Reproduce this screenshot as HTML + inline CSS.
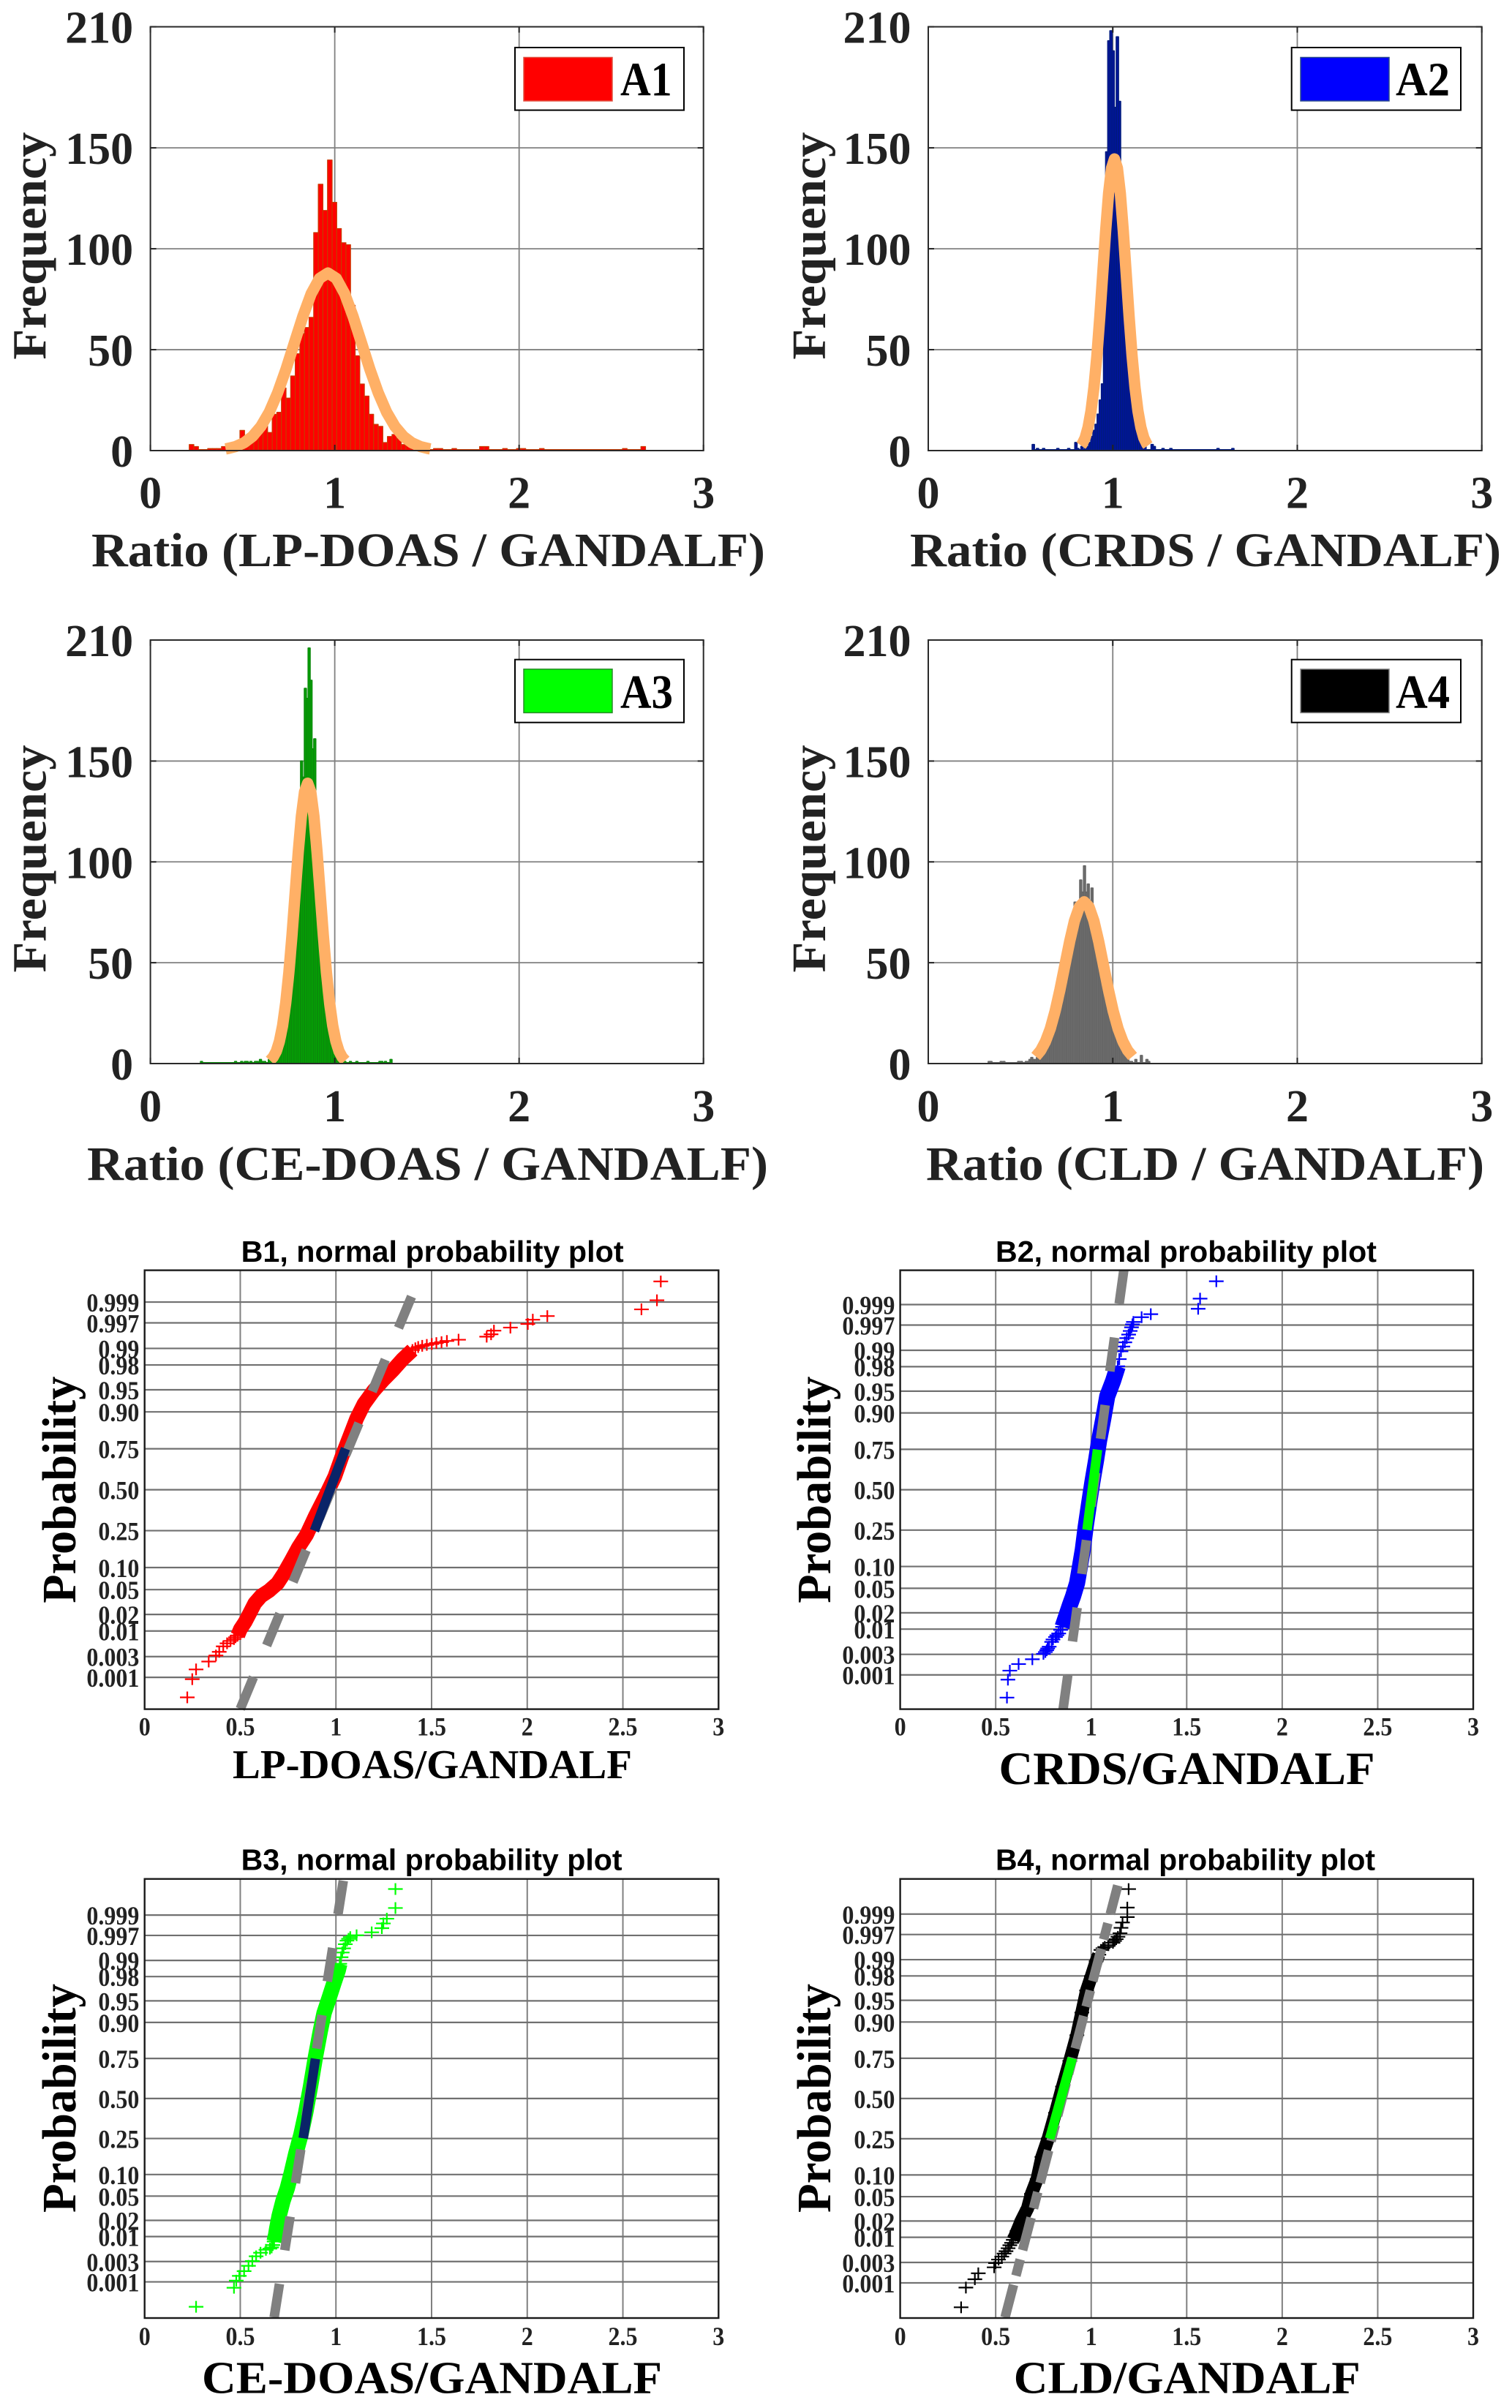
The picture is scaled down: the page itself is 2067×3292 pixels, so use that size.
<!DOCTYPE html>
<html lang="en">
<head>
<meta charset="utf-8">
<title>Ratio histograms and normal probability plots</title>
<style>
html,body{margin:0;padding:0;background:#fff;}
svg{display:block;}
.serif{font-family:"Liberation Serif",serif;font-weight:bold;}
.sans{font-family:"Liberation Sans",sans-serif;font-weight:bold;}
.ax{fill:#222;}
.bx{fill:#000;}
</style>
</head>
<body>
<svg id="figure" xmlns="http://www.w3.org/2000/svg" width="2067" height="3292" viewBox="0 0 2067 3292">
<rect width="2067" height="3292" fill="#fff"/>

<g id="a1"></g>
<g id="a2"></g>
<g id="a3"></g>
<g id="a4"></g>
<g id="b1"></g>
<g id="b2"></g>
<g id="b3"></g>
<g id="b4"></g>

<!-- histogram axis titles -->
<g class="serif ax" font-size="66">
<text transform="translate(62.5,491.6) rotate(-90)" textLength="311" lengthAdjust="spacingAndGlyphs">Frequency</text>
<text transform="translate(1128,491.6) rotate(-90)" textLength="311" lengthAdjust="spacingAndGlyphs">Frequency</text>
<text transform="translate(62.5,1329.5) rotate(-90)" textLength="311" lengthAdjust="spacingAndGlyphs">Frequency</text>
<text transform="translate(1128,1329.5) rotate(-90)" textLength="311" lengthAdjust="spacingAndGlyphs">Frequency</text>
<text x="125" y="774" textLength="921" lengthAdjust="spacingAndGlyphs">Ratio (LP-DOAS / GANDALF)</text>
<text x="1244" y="774" textLength="808" lengthAdjust="spacingAndGlyphs">Ratio (CRDS / GANDALF)</text>
<text x="119" y="1613" textLength="931" lengthAdjust="spacingAndGlyphs">Ratio (CE-DOAS / GANDALF)</text>
<text x="1266" y="1613" textLength="763" lengthAdjust="spacingAndGlyphs">Ratio (CLD / GANDALF)</text>
</g>

<!-- legends -->
<g>
<rect x="704" y="65" width="231" height="85.6" fill="#fff" stroke="#000" stroke-width="2"/>
<rect x="716" y="78.5" width="121" height="59.5" fill="#f00" stroke="#e05040" stroke-width="1.5"/>
<text class="serif" fill="#000" font-size="66" x="848" y="130.7" textLength="70.6" lengthAdjust="spacingAndGlyphs">A1</text>
</g>
<g>
<rect x="1765.7" y="65" width="231.3" height="85.6" fill="#fff" stroke="#000" stroke-width="2"/>
<rect x="1778" y="78.5" width="121" height="59.5" fill="#00f" stroke="#2a4a8a" stroke-width="1.5"/>
<text class="serif" fill="#000" font-size="66" x="1908" y="130.7" textLength="74" lengthAdjust="spacingAndGlyphs">A2</text>
</g>
<g>
<rect x="704" y="901.7" width="231" height="86" fill="#fff" stroke="#000" stroke-width="2"/>
<rect x="716" y="914.8" width="121" height="59.6" fill="#0f0" stroke="#2a8a2a" stroke-width="1.5"/>
<text class="serif" fill="#000" font-size="66" x="848" y="968" textLength="72" lengthAdjust="spacingAndGlyphs">A3</text>
</g>
<g>
<rect x="1765.7" y="901.7" width="231.3" height="86" fill="#fff" stroke="#000" stroke-width="2"/>
<rect x="1778" y="914.8" width="121" height="59.6" fill="#000" stroke="#888" stroke-width="1.5"/>
<text class="serif" fill="#000" font-size="66" x="1908" y="968" textLength="74" lengthAdjust="spacingAndGlyphs">A4</text>
</g>

<!-- probability plot titles and axis titles -->
<g class="sans" fill="#000" font-size="41">
<text x="329.6" y="1725" textLength="523" lengthAdjust="spacingAndGlyphs">B1, normal probability plot</text>
<text x="1361" y="1725" textLength="521" lengthAdjust="spacingAndGlyphs">B2, normal probability plot</text>
<text x="329.6" y="2556.6" textLength="521" lengthAdjust="spacingAndGlyphs">B3, normal probability plot</text>
<text x="1361" y="2556.6" textLength="519" lengthAdjust="spacingAndGlyphs">B4, normal probability plot</text>
</g>
<g class="serif bx">
<text font-size="56" x="318" y="2431" textLength="546" lengthAdjust="spacingAndGlyphs">LP-DOAS/GANDALF</text>
<text font-size="63" x="1365.5" y="2439" textLength="514" lengthAdjust="spacingAndGlyphs">CRDS/GANDALF</text>
<text font-size="62" x="276" y="3271.7" textLength="629" lengthAdjust="spacingAndGlyphs">CE-DOAS/GANDALF</text>
<text font-size="62" x="1385.8" y="3271.7" textLength="474" lengthAdjust="spacingAndGlyphs">CLD/GANDALF</text>
<text font-size="66" transform="translate(103,2191.7) rotate(-90)" textLength="310" lengthAdjust="spacingAndGlyphs">Probability</text>
<text font-size="66" transform="translate(1135,2191.7) rotate(-90)" textLength="310" lengthAdjust="spacingAndGlyphs">Probability</text>
<text font-size="66" transform="translate(103,3025) rotate(-90)" textLength="313" lengthAdjust="spacingAndGlyphs">Probability</text>
<text font-size="66" transform="translate(1135,3025) rotate(-90)" textLength="313" lengthAdjust="spacingAndGlyphs">Probability</text>
</g>
</svg>

<script>
/* ---------- tick labels ---------- */
const histXTicks = [0, 1, 2, 3];
const histYTicks = [0, 50, 100, 150, 210];
const probXTicks = ['0', '0.5', '1', '1.5', '2', '2.5', '3'];
const probYTicks = ['0.001', '0.003', '0.01', '0.02', '0.05', '0.10', '0.25', '0.50', '0.75', '0.90', '0.95', '0.98', '0.99', '0.997', '0.999'];

/* ---------- histogram A1 ---------- */
const a1BinWidth = 0.025;
const a1Bins = [.2107,.2357,.3107,.3357,.3607,.3857,.4107,.4357,.4607,.4857,.5107,.5357,.5607,.5857,.6107,.6357,.6607,.6857,.7107,.7357,.7607,.7857,.8107,.8357,.8607,.8857,.9107,.9357,.9607,.9857,1.0107,1.0357,1.0607,1.0857,1.1107,1.1357,1.1607,1.1857,1.2107,1.2357,1.2607,1.2857,1.3107,1.3357,1.3607,1.3857,1.4107,1.4357,1.4607,1.4857,1.5357,1.5607,1.6357,1.7857,1.8107,1.9107,1.9857,2.0107,2.1107,2.5607,2.6607];
const a1Counts = [3,2,1,1,1,2,2,3,4,10,5,6,8,12,14,9,18,19,31,26,37,48,58,61,66,108,132,119,144,123,110,103,102,72,47,33,27,18,13,12,4,7,8,6,3,3,2,1,1,1,1,1,1,2,2,1,1,1,1,1,2];
const a1FitRatio = [.408,.417,.4625,.508,.5535,.599,.6445,.69,.7355,.781,.8265,.872,.9175,.963,1.0085,1.054,1.0995,1.145,1.1905,1.236,1.2815,1.327,1.3725,1.418,1.4635,1.509,1.518];
const a1FitCount = [.83,.98,2,3.86,7,11.9,19,28.6,40.3,53.4,66.4,77.7,85.3,88,85.3,77.7,66.4,53.4,40.3,28.6,19,11.9,7,3.86,2,.98,.83];

/* ---------- histogram A2 ---------- */
const a2BinWidth = 0.0115;
const a2Bins = [.5635,.5865,.6195,.6965,.7555,.7945,.8045,.8275,.8467,.8582,.8697,.8812,.8927,.9042,.9157,.9272,.9387,.9502,.9617,.9732,.9847,.9962,1.0077,1.0192,1.0307,1.0422,1.0537,1.0652,1.0767,1.0882,1.0997,1.1112,1.1227,1.1342,1.1457,1.1572,1.1687,1.2077,1.2192,1.2667,1.3092,1.5647,1.6452];
const a2Counts = [3,1,1,1,1,4,1,2,1,2,4,7,10,13,18,25,33,90,148,203,208,198,170,205,173,120,90,70,50,34,24,17,12,8,5,3,2,3,2,1,1,1,1];
const a2FitRatio = [.828,.8343,.8502,.8661,.882,.8979,.9138,.9297,.9456,.9615,.9774,.9933,1.0092,1.0251,1.041,1.0569,1.0728,1.0887,1.1046,1.1205,1.1364,1.1523,1.1682,1.1841,1.1905];
const a2FitCount = [2.5,3.3,6.3,11.5,19.6,31.3,46.9,66.2,87.6,109,127.5,140,144.5,140,127.5,109,87.6,66.2,46.9,31.3,19.6,11.5,6.3,3.3,2.5];

/* ---------- histogram A3 ---------- */
const a3BinWidth = 0.0102;
const a3Bins = [.272,.457,.49,.51,.52,.54,.565,.575,.592,.602,.615,.64,.6519,.6621,.6723,.6825,.6927,.7029,.7131,.7233,.7335,.7437,.7539,.7641,.7743,.7845,.7947,.8049,.8151,.8253,.8355,.8457,.8559,.8661,.8763,.8865,.8967,.9069,.9171,.9273,.9375,.9477,.9579,.9681,.9783,.9885,.9987,1.0089,1.0191,1.0293,1.0395,1.0497,1.08,1.115,1.175,1.24,1.25,1.27,1.3];
const a3Counts = [1,1,1,1,1,1,1,1,2,1,1,2,2,3,4,6,8,11,15,20,26,33,42,52,64,78,96,118,150,142,186,181,206,190,156,161,122,100,82,66,53,42,33,25,19,14,10,7,5,3,2,1,1,1,1,1,1,1,2];
const a3FitRatio = [.649,.666,.683,.7,.717,.734,.751,.768,.785,.802,.819,.836,.853,.87,.887,.904,.921,.938,.955,.972,.989,1.006,1.023,1.04,1.057];
const a3FitCount = [1.5,3.2,6.1,11.1,18.8,30.1,45.1,63.6,84.3,104.9,122.7,134.7,139,134.7,122.7,104.9,84.3,63.6,45.1,30.1,18.8,11.1,6.1,3.2,1.5];

/* ---------- histogram A4 ---------- */
const a4BinWidth = 0.0102;
const a4Bins = [.325,.335,.39,.405,.485,.5,.526,.536,.546,.556,.5662,.5764,.5866,.5968,.607,.6172,.6274,.6376,.6478,.658,.6682,.6784,.6886,.6988,.709,.7192,.7294,.7396,.7498,.76,.7702,.7804,.7906,.8008,.811,.8212,.8314,.8416,.8518,.862,.8722,.8824,.8926,.9028,.913,.9232,.9334,.9436,.9538,.964,.9742,.9844,.9946,1.0048,1.015,1.0252,1.0354,1.0456,1.0558,1.066,1.0762,1.0864,1.0966,1.12,1.15,1.18,1.19];
const a4Counts = [1,1,1,1,1,1,1,1,2,3,2,2,3,3,4,5,6,7,9,11,13,16,19,23,27,32,37,42,48,55,60,68,80,72,78,91,85,98,85,89,78,87,72,62,62,55,48,59,42,36,30,25,20,16,13,10,8,6,5,3,2,1,1,2,4,2,1];
const a4FitRatio = [.5825,.6088,.635,.6613,.6875,.7138,.74,.7663,.7925,.8188,.845,.8712,.8975,.9238,.95,.9762,1.0025,1.0288,1.055,1.0812,1.1075];
const a4FitCount = [3.5,6.4,10.9,17.3,26,36.7,48.6,60.5,70.8,77.7,80.2,77.7,70.8,60.5,48.6,36.7,26,17.3,10.9,6.4,3.5];

/* ---------- probability plot B1 ---------- */
const b1Ratio = [.223,.249,.269,.335,.373,.39,.411,.431,.449,.467,.475,.487,.5,.525,.55,.576,.609,.652,.695,.728,.766,.804,.847,.893,.943,.994,1.032,1.07,1.108,1.146,1.197,1.248,1.298,1.349,1.4,1.415,1.43,1.451,1.475,1.501,1.525,1.552,1.58,1.641,1.788,1.811,1.826,1.912,2.003,2.029,2.105,2.597,2.678,2.698];
const b1Score = [-3.42,-3.12,-2.96,-2.83,-2.73,-2.67,-2.58,-2.53,-2.49,-2.46,-2.43,-2.4,-2.3,-2.18,-2.03,-1.87,-1.75,-1.66,-1.54,-1.38,-1.17,-.95,-.74,-.43,-.12,.215,.553,.86,1.17,1.41,1.63,1.81,1.97,2.15,2.3,2.33,2.35,2.37,2.385,2.4,2.415,2.43,2.45,2.47,2.52,2.56,2.62,2.67,2.73,2.8,2.86,2.97,3.12,3.43];
const b1LineRatio = [.5, 1.395];
const b1LineScore = [-3.61, 3.18];
const b1CoreRatio = [.8877, 1.05];
const b1CoreScore = [-.676, .676];

/* ---------- probability plot B2 ---------- */
const b2Ratio = [.559,.564,.574,.62,.692,.75,.76,.767,.772,.78,.793,.8,.813,.82,.83,.84,.85,.868,.888,.905,.926,.938,.956,.971,.988,1.006,1.026,1.041,1.063,1.084,1.114,1.139,1.147,1.156,1.166,1.176,1.186,1.196,1.204,1.211,1.216,1.221,1.264,1.312,1.56,1.57,1.655];
const b2Score = [-3.47,-3.17,-3.02,-2.91,-2.83,-2.74,-2.71,-2.68,-2.65,-2.62,-2.54,-2.5,-2.46,-2.43,-2.4,-2.34,-2.29,-2.12,-1.93,-1.78,-1.56,-1.34,-1,-.62,-.25,.125,.5,.81,1.18,1.56,1.81,2.06,2.18,2.31,2.39,2.46,2.53,2.59,2.65,2.71,2.76,2.8,2.88,2.93,3.02,3.19,3.48];
const b2LineRatio = [.853, 1.171];
const b2LineScore = [-3.66, 3.67];
const b2CoreRatio = [.978, 1.033];
const b2CoreScore = [-.67, .67];

/* ---------- probability plot B3 ---------- */
const b3Ratio = [.269,.467,.479,.495,.52,.543,.563,.583,.606,.634,.655,.664,.67,.677,.685,.69,.703,.723,.746,.766,.791,.817,.842,.867,.893,.918,.938,.964,.989,1.012,1.02,1.027,1.033,1.04,1.049,1.058,1.066,1.075,1.108,1.187,1.24,1.248,1.266,1.311,1.311];
const b3Score = [-3.51,-3.19,-3.07,-2.99,-2.91,-2.82,-2.74,-2.66,-2.6,-2.55,-2.53,-2.51,-2.47,-2.41,-2.3,-2.2,-1.98,-1.73,-1.51,-1.26,-.92,-.61,-.24,.2,.7,1.13,1.44,1.69,1.94,2.16,2.27,2.38,2.46,2.53,2.6,2.66,2.69,2.72,2.75,2.8,2.87,2.95,3.03,3.21,3.53];
const b3LineRatio = [.677, 1.04];
const b3LineScore = [-3.69, 3.7];
const b3CoreRatio = [.829, .893];
const b3CoreScore = [-.67, .67];

/* ---------- probability plot B4 ---------- */
const b4Ratio = [.319,.344,.391,.409,.492,.499,.515,.532,.544,.554,.565,.574,.583,.592,.602,.612,.637,.667,.687,.717,.742,.775,.813,.85,.888,.925,.951,.976,1.001,1.026,1.04,1.051,1.062,1.071,1.09,1.114,1.122,1.131,1.14,1.151,1.156,1.164,1.189,1.189,1.196];
const b4Score = [-3.5,-3.17,-3.03,-2.93,-2.83,-2.76,-2.7,-2.65,-2.6,-2.56,-2.51,-2.46,-2.42,-2.37,-2.3,-2.22,-2.03,-1.84,-1.6,-1.35,-.98,-.67,-.24,.2,.63,1.06,1.44,1.81,2.05,2.3,2.41,2.49,2.52,2.54,2.57,2.61,2.64,2.67,2.71,2.77,2.86,2.95,3.04,3.2,3.51];
const b4LineRatio = [.549, 1.139];
const b4LineScore = [-3.67, 3.57];
const b4CoreRatio = [.7825, .9];
const b4CoreScore = [-.675, .675];

/* ---------- rendering ---------- */
const NS = 'http://www.w3.org/2000/svg';
function mk(tag, attrs, parent) {
  const el = document.createElementNS(NS, tag);
  for (const k in attrs) el.setAttribute(k, attrs[k]);
  parent.appendChild(el);
  return el;
}
function pointsOf(xs, ys, fx, fy) {
  return xs.map((v, i) => fx(v).toFixed(2) + ',' + fy(ys[i]).toFixed(2)).join(' ');
}
/* width of a numeric label set in Times-metric bold at 32px, so taller glyphs keep the original width */
function labelWidth(t) {
  let em = 0;
  for (const c of t) em += c === '.' ? 0.25 : 0.5;
  return em * 32;
}
/* inverse normal CDF (probability axis scale) */
function probit(p) {
  const q = p < 0.5 ? p : 1 - p;
  const t = Math.sqrt(-2 * Math.log(q));
  const z = t - (2.515517 + 0.802853 * t + 0.010328 * t * t) / (1 + 1.432788 * t + 0.189269 * t * t + 0.001308 * t * t * t);
  return p < 0.5 ? -z : z;
}

const histPanels = [
  {id:'a1', left:205.6, right:961.7, top:36.6, bottom:616, bins:a1Bins, counts:a1Counts, width:a1BinWidth, fitX:a1FitRatio, fitY:a1FitCount, fill:'#ff0000', edge:'#c83a00', edgeWidth:1.2, labelY:694.6},
  {id:'a2', left:1269, right:2025.7, top:36.6, bottom:616, bins:a2Bins, counts:a2Counts, width:a2BinWidth, fitX:a2FitRatio, fitY:a2FitCount, fill:'#0012a6', edge:'#001a80', edgeWidth:1.8, labelY:694.6},
  {id:'a3', left:205.6, right:961.7, top:875, bottom:1454, bins:a3Bins, counts:a3Counts, width:a3BinWidth, fitX:a3FitRatio, fitY:a3FitCount, fill:'#00b400', edge:'#0a8a0a', edgeWidth:1.8, labelY:1533},
  {id:'a4', left:1269, right:2025.7, top:875, bottom:1454, bins:a4Bins, counts:a4Counts, width:a4BinWidth, fitX:a4FitRatio, fitY:a4FitCount, fill:'#707070', edge:'#666666', edgeWidth:1.8, labelY:1533}
];

histPanels.forEach(function (p) {
  const g = document.getElementById(p.id);
  const X = v => p.left + (p.right - p.left) * v / 3;
  const Y = v => p.bottom - (p.bottom - p.top) * v / 210;

  histXTicks.forEach(function (t) {
    if (t > 0 && t < 3) {
      const gl = mk('line', {x1:X(t), x2:X(t), y1:p.top, y2:p.bottom, stroke:'#808080', 'stroke-width':1.8}, g);
      
      
    }
    const tx = mk('text', {x:X(t), y:p.labelY, 'text-anchor':'middle', 'font-size':62, class:'serif ax'}, g);
    tx.textContent = String(t);
    
    
  });
  histYTicks.forEach(function (t) {
    if (t > 0 && t < 210) {
      const gl = mk('line', {x1:p.left, x2:p.right, y1:Y(t), y2:Y(t), stroke:'#808080', 'stroke-width':1.8}, g);
      
      
    }
    const tx = mk('text', {x:p.left - 23.5, y:Y(t) + 22, 'text-anchor':'end', 'font-size':62, class:'serif ax'}, g);
    tx.textContent = String(t);
    
    
  });

  const last = p.bins.length - 1;
  const base = mk('line', {x1:X(p.bins[0]), x2:X(p.bins[last] + p.width), y1:p.bottom - 1, y2:p.bottom - 1, stroke:p.edge, 'stroke-width':2}, g);
  
  

  p.bins.forEach(function (b, i) {
    const bar = mk('rect', {x:X(b), y:Y(p.counts[i]), width:X(b + p.width) - X(b), height:Y(0) - Y(p.counts[i]), fill:p.fill, stroke:p.edge, 'stroke-width':p.edgeWidth, 'stroke-linejoin':'round'}, g);
    
    
  });

  const fit = mk('polyline', {points:pointsOf(p.fitX, p.fitY, X, Y), fill:'none', stroke:'#FFB066', 'stroke-width':15.5, 'stroke-linejoin':'round', 'stroke-linecap':'butt'}, g);
  
  

  histYTicks.forEach(function (t) {
    const a = mk('line', {x1:p.left, x2:p.left + 8, y1:Y(t), y2:Y(t), stroke:'#222', 'stroke-width':2}, g);
    
    
    const b = mk('line', {x1:p.right - 8, x2:p.right, y1:Y(t), y2:Y(t), stroke:'#222', 'stroke-width':2}, g);
    
    
  });
  histXTicks.forEach(function (t) {
    const a = mk('line', {x1:X(t), x2:X(t), y1:p.bottom - 8, y2:p.bottom, stroke:'#222', 'stroke-width':2}, g);
    
    
    const b = mk('line', {x1:X(t), x2:X(t), y1:p.top, y2:p.top + 8, stroke:'#222', 'stroke-width':2}, g);
    
    
  });

  const frame = mk('rect', {x:p.left, y:p.top, width:p.right - p.left, height:p.bottom - p.top, fill:'none', stroke:'#2a2a2a', 'stroke-width':2}, g);
  
  
});

const probPanels = [
  {id:'b1', left:197.7, right:982.3, top:1736.6, bottom:2336.6, zLimit:3.614, ratio:b1Ratio, score:b1Score, lineX:b1LineRatio, lineZ:b1LineScore, coreX:b1CoreRatio, coreZ:b1CoreScore, color:'#ff0000', core:'#0a2468', dash:'47 47', bandFrom:.487, bandTo:1.4, band:20, labelGap:7.3, labelOffset:35.4},
  {id:'b2', left:1230.6, right:2014, top:1736.6, bottom:2336.6, zLimit:3.663, ratio:b2Ratio, score:b2Score, lineX:b2LineRatio, lineZ:b2LineScore, coreX:b2CoreRatio, coreZ:b2CoreScore, color:'#0000ff', core:'#00ff00', dash:'46.6 46.6', bandFrom:.85, bandTo:1.139, band:22, labelGap:7.2, labelOffset:35.4},
  {id:'b3', left:197.7, right:982.3, top:2568.7, bottom:3169, zLimit:3.7, ratio:b3Ratio, score:b3Score, lineX:b3LineRatio, lineZ:b3LineScore, coreX:b3CoreRatio, coreZ:b3CoreScore, color:'#00ff00', core:'#0a2468', dash:'46.5 46.5', bandFrom:.677, bandTo:1.02, band:21, labelGap:7.3, labelOffset:36.5},
  {id:'b4', left:1230.6, right:2014, top:2568.7, bottom:3169, zLimit:3.68, ratio:b4Ratio, score:b4Score, lineX:b4LineRatio, lineZ:b4LineScore, coreX:b4CoreRatio, coreZ:b4CoreScore, color:'#000000', core:'#00ff00', dash:'46 13 23 13', bandFrom:.592, bandTo:1.04, band:18, labelGap:7.2, labelOffset:36.5}
];

probPanels.forEach(function (p) {
  const g = document.getElementById(p.id);
  const X = v => p.left + (p.right - p.left) * v / 3;
  const mid = (p.top + p.bottom) / 2;
  const Z = v => mid - (p.bottom - p.top) / (2 * p.zLimit) * v;

  probXTicks.forEach(function (t) {
    const v = parseFloat(t);
    if (v > 0 && v < 3) {
      const gl = mk('line', {x1:X(v), x2:X(v), y1:p.top, y2:p.bottom, stroke:'#808080', 'stroke-width':2}, g);
      
      
    }
    const tx = mk('text', {x:X(v), y:p.bottom + p.labelOffset + 0.5, 'text-anchor':'middle', 'font-size':36, textLength:labelWidth(t), lengthAdjust:'spacingAndGlyphs', class:'serif ax'}, g);
    tx.textContent = t;
    
    
  });
  probYTicks.forEach(function (t) {
    const y = Z(probit(parseFloat(t)));
    const gl = mk('line', {x1:p.left, x2:p.right, y1:y, y2:y, stroke:'#707070', 'stroke-width':2.2}, g);
    
    
    const tx = mk('text', {x:p.left - p.labelGap, y:y + 13, 'text-anchor':'end', 'font-size':36, textLength:labelWidth(t), lengthAdjust:'spacingAndGlyphs', class:'serif ax'}, g);
    tx.textContent = t;
    
    
  });

  const bandX = [], bandZ = [];
  p.ratio.forEach(function (r, i) {
    if (r >= p.bandFrom && r <= p.bandTo) { bandX.push(r); bandZ.push(p.score[i]); }
  });
  const band = mk('polyline', {points:pointsOf(bandX, bandZ, X, Z), fill:'none', stroke:p.color, 'stroke-width':p.band, 'stroke-linejoin':'round'}, g);
  
  

  p.ratio.forEach(function (r, i) {
    const cx = X(r), cy = Z(p.score[i]);
    const m = mk('path', {d:'M' + (cx - 10).toFixed(2) + ' ' + cy.toFixed(2) + 'H' + (cx + 10).toFixed(2) + 'M' + cx.toFixed(2) + ' ' + (cy - 8).toFixed(2) + 'V' + (cy + 8).toFixed(2), fill:'none', stroke:p.color, 'stroke-width':2.2}, g);
    
    
  });

  const ref = mk('polyline', {points:pointsOf(p.lineX, p.lineZ, X, Z), fill:'none', stroke:'#808080', 'stroke-width':13, 'stroke-dasharray':p.dash}, g);
  
  

  const core = mk('polyline', {points:pointsOf(p.coreX, p.coreZ, X, Z), fill:'none', stroke:p.core, 'stroke-width':13}, g);
  
  

  const frame = mk('rect', {x:p.left, y:p.top, width:p.right - p.left, height:p.bottom - p.top, fill:'none', stroke:'#1a1a1a', 'stroke-width':2.4}, g);
  
  
});
</script>
</body>
</html>
